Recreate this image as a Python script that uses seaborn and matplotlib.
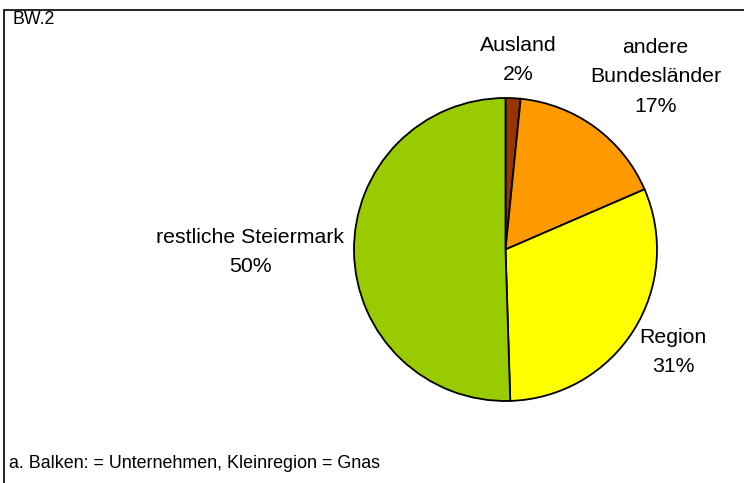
#!/usr/bin/env python
# -*- coding: utf-8 -*-

import matplotlib
matplotlib.use("Agg")
import matplotlib.pyplot as plt
from matplotlib.patches import Rectangle
import seaborn as sns

# Data (share of customers by origin)
labels = ["Ausland", "andere\nBundesländer", "Region", "restliche Steiermark"]
values = [1.6, 16.9, 31.0, 50.5]
pct_labels = ["2%", "17%", "31%", "50%"]
colors = ["#993300", "#FF9900", "#FFFF00", "#99CC00"]


def main():
    sns.set_style("white")
    plt.rcParams['font.family'] = ['Liberation Sans', 'DejaVu Sans']
    plt.rcParams['text.color'] = 'black'

    W, H = 744, 483
    fig = plt.figure(figsize=(W / 100, H / 100), dpi=100)

    # pie axes: centre (505.5, 249.5) px, radius 151.5 px
    cx, cy, r = 505.5, 249.5, 151.5
    ax = fig.add_axes([(cx - r) / W, (H - cy - r) / H, 2 * r / W, 2 * r / H])
    ax.pie(values, colors=sns.color_palette(colors), startangle=90,
           counterclock=False, radius=1.0,
           wedgeprops=dict(edgecolor="black", linewidth=1.3))
    ax.set_xlim(-1, 1)
    ax.set_ylim(-1, 1)
    ax.set_aspect("equal")
    ax.axis("off")

    # label positions in radius units, relative to the centre
    label_pos = [(0.083, 1.25), (0.99, 1.14), (1.106, -0.677), (-1.686, -0.017)]
    for lab, pct, (x, y) in zip(labels, pct_labels, label_pos):
        ax.text(x, y, lab + "\n" + pct, ha="center", va="center",
                fontsize=15.3, linespacing=1.7, clip_on=False, color="black")

    # frame (top and left edges visible only)
    fig.add_artist(Rectangle((4 / W, -0.1), 1.2, (H - 10) / H + 0.1,
                             transform=fig.transFigure, fill=False,
                             edgecolor="black", linewidth=1.2))

    fig.text(13 / W, 1 - 20 / H, "BW.2", ha="left", va="center",
             fontsize=12.8, color="black")
    fig.text(9 / W, 1 - 463 / H, "a. Balken: = Unternehmen, Kleinregion = Gnas",
             ha="left", va="center", fontsize=12.9, color="black")

    fig.savefig("out.png", dpi=100)


if __name__ == '__main__':
    main()
